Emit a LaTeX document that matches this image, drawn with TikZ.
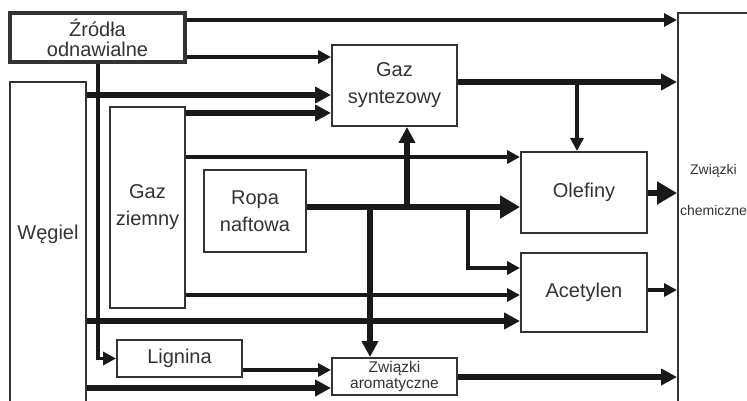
\documentclass[tikz,border=0pt]{standalone}
\usepackage{fontspec}
\setmainfont{Liberation Sans}
\usetikzlibrary{arrows.meta}

\tikzset{
  blok/.style={draw=black!80, line width=2pt, inner sep=0pt, align=center,
    text=black!80, font=\fontsize{20}{27}\selectfont},
  napis/.style={inner sep=0pt, align=center, text=black!80},
  srednia/.style={line width=3.5pt, draw=black!90,
    -{Triangle[length=13pt,width=13pt]}},
  gruba/.style={line width=5.5pt, draw=black!90,
    -{Triangle[length=16pt,width=16pt]}},
  duza/.style={line width=5.5pt, draw=black!90,
    -{Triangle[length=20pt,width=22pt]}},
  linia/.style={line width=5.5pt, draw=black!90}
}

\begin{document}
\begin{tikzpicture}[x=1pt, y=-1pt]
      \useasboundingbox (0,0) rectangle (747,401);
      \clip (0,0) rectangle (747,401);

      \node (zrodla) at (97.5,37.5) [blok, line width=4pt,
      minimum width=175, minimum height=49,
      font=\fontsize{20}{20}\selectfont]
      {Źródła\\odnawialne};

      \node (wegiel) at (48,260) [blok, minimum width=76,
      minimum height=356] {};

      \node (wegiellbl) at (48,234) [napis, font=\fontsize{20}{20}\selectfont]
      {Węgiel};

      \node (gaz) at (147.5,207.5) [blok, minimum width=75,
      minimum height=201] {Gaz\\ziemny};

      \node (ropa) at (255,211) [blok, minimum width=102,
      minimum height=82] {Ropa\\naftowa};

      \node (syngaz) at (394.5,85.5) [blok, minimum width=125,
      minimum height=81] {Gaz\\syntezowy};

      \node (olefiny) at (584,192.5) [blok, minimum width=126,
      minimum height=81] {Olefiny};

      \node (acetylen) at (584,292.5) [blok, minimum width=126,
      minimum height=79] {Acetylen};

      \node (lignina) at (179.5,358.5) [blok, minimum width=125,
      minimum height=37] {Lignina};

      \node (aromaty) at (394.5,376.5) [blok, minimum width=125,
      minimum height=37, font=\fontsize{15.5}{16}\selectfont]
      {Związki\\aromatyczne};

      \node (chemia) at (717,220) [blok, minimum width=78,
      minimum height=414] {};

      \node (chemialbl) at (713.5,190) [napis,
      font=\fontsize{14}{41}\selectfont]
      {Związki\\chemiczne};

      \coordinate (j1) at (577,82);
      \coordinate (j2) at (407,207);
      \coordinate (j3) at (370,207);
      \coordinate (j4) at (468,207);

      \draw[srednia] (zrodla.east |- 0,20) -- (chemia.west |- 0,20);

      \draw[srednia] (zrodla.east |- 0,57) -- (syngaz.west |- 0,57);

      \draw[srednia] (zrodla.south -| 98,0) |- (lignina.west);

      \draw[gruba] (wegiel.east |- 0,95) -- (syngaz.west |- 0,95);

      \draw[gruba] (gaz.east |- 0,113) -- (syngaz.west |- 0,113);

      \draw[gruba] (syngaz.east |- 0,82) -- (chemia.west |- 0,82);

      \draw[srednia] (j1) -- (olefiny.north -| j1);

      \draw[srednia] (gaz.east |- 0,157) -- (olefiny.west |- 0,157);

      \draw[duza] (ropa.east |- 0,207) -- (olefiny.west |- 0,207);

      \draw[gruba] (j2) -- (syngaz.south -| j2);

      \draw[gruba] (j3) -- (aromaty.north -| j3);

      \draw[srednia] (j4) |- (acetylen.west |- 0,268);

      \draw[duza] (olefiny.east |- 0,193) -- (chemia.west |- 0,193);

      \draw[srednia] (gaz.east |- 0,295) -- (acetylen.west |- 0,295);

      \draw[gruba] (wegiel.east |- 0,321) -- (acetylen.west |- 0,321);

      \draw[srednia] (acetylen.east |- 0,290) -- (chemia.west |- 0,290);

      \draw[srednia] (lignina.east |- 0,370) -- (aromaty.west |- 0,370);

      \draw[gruba] (wegiel.east |- 0,388) -- (aromaty.west |- 0,388);

      \draw[gruba] (aromaty.east |- 0,377) -- (chemia.west |- 0,377);
\end{tikzpicture}
\end{document}
